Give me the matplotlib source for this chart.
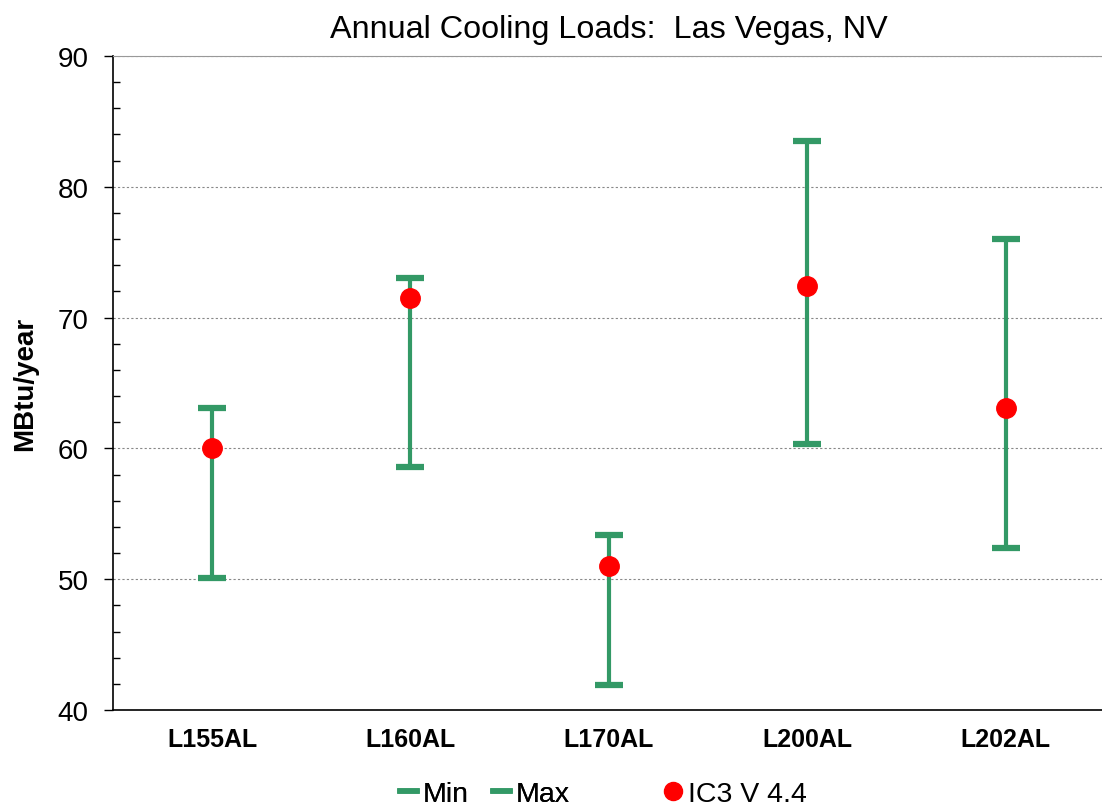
import matplotlib.pyplot as plt
from matplotlib.lines import Line2D
from matplotlib.ticker import MultipleLocator

plt.rcParams['font.family'] = ['Liberation Sans', 'DejaVu Sans']

# dados
casos = ['L155AL', 'L160AL', 'L170AL', 'L200AL', 'L202AL']
minimos = [50.1, 58.6, 41.9, 60.3, 52.4]
maximos = [63.1, 73.0, 53.4, 83.5, 76.0]
ic3 = [60.0, 71.5, 51.0, 72.4, 63.1]

verde = '#339966'
vermelho = '#ff0000'

fig = plt.figure(figsize=(11.02, 8.12), dpi=100)
ax = fig.add_axes([0.1025, 0.1244, 0.9, 0.8054])

x = list(range(len(casos)))

# linhas min-max
ax.vlines(x, minimos, maximos, color=verde, linewidth=3, zorder=3)
ax.plot(x, minimos, linestyle='none', marker='_', markersize=20, mew=4.5, color=verde, zorder=3)
ax.plot(x, maximos, linestyle='none', marker='_', markersize=20, mew=4.5, color=verde, zorder=3)
ax.plot(x, ic3, linestyle='none', marker='o', markersize=14, color=vermelho, zorder=4)

ax.set_xlim(-0.5, 4.5)
ax.set_ylim(40, 90)
ax.set_xticks(x)
ax.set_xticklabels(casos, fontsize=18, fontweight='bold')
ax.tick_params(axis='x', length=0, pad=12)

ax.yaxis.set_major_locator(MultipleLocator(10))
ax.yaxis.set_minor_locator(MultipleLocator(2))
ax.tick_params(axis='y', which='major', direction='out', length=6.5, width=1, labelsize=20, pad=11)
ax.tick_params(axis='y', which='minor', direction='in', length=5, width=1)

ax.grid(axis='y', which='major', linestyle=(0, (2, 2)), color='#888888', linewidth=0.8)
ax.set_axisbelow(True)

ax.spines['right'].set_visible(False)
ax.spines['top'].set_color('#999999')
ax.spines['left'].set_linewidth(1.2)
ax.spines['bottom'].set_linewidth(1.2)

ax.set_ylabel('MBtu/year', fontsize=20, fontweight='bold', labelpad=14)
ax.set_title('Annual Cooling Loads:  Las Vegas, NV', fontsize=23.3, pad=14)

# legenda (duas partes)
h_min = Line2D([], [], color=verde, linewidth=4)
h_max = Line2D([], [], color=verde, linewidth=4)
h_ic3 = Line2D([], [], linestyle='none', marker='o', markersize=13, color=vermelho)
opts = dict(frameon=False, fontsize=20.5, handlelength=0.6, handletextpad=0.2,
            borderpad=0, borderaxespad=0, columnspacing=0.85)
leg1 = fig.legend([h_min, h_max], ['Min', 'Max'], loc='center left',
                  bbox_to_anchor=(0.363, 0.021), ncol=2, **opts)
fig.add_artist(leg1)
fig.legend([h_ic3], ['IC3 V 4.4'], loc='center left',
           bbox_to_anchor=(0.6034, 0.021), ncol=1, **opts)

plt.savefig('out.png', dpi=100)
